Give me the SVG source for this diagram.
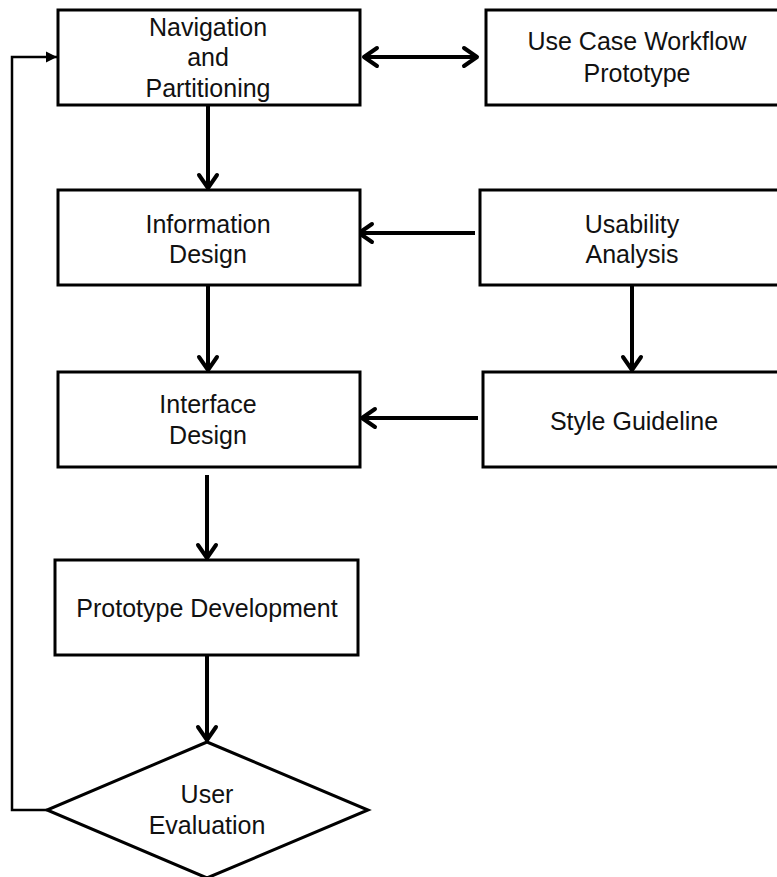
<svg xmlns="http://www.w3.org/2000/svg" width="777" height="877" viewBox="0 0 777 877">
  <style>
    .box { fill: #ffffff; stroke: #000000; stroke-width: 3; }
    .lbl { font-family: "Liberation Sans", Arial, sans-serif; font-size: 25px; fill: #111111; text-anchor: middle; }
    .flow { fill: none; stroke: #000000; stroke-width: 4; }
    .loop { fill: none; stroke: #000000; stroke-width: 2.5; }
  </style>
  <defs>
    <marker id="chev" markerUnits="userSpaceOnUse" viewBox="-20 -15 25 30" refX="0" refY="0" markerWidth="25" markerHeight="30" orient="auto-start-reverse" overflow="visible">
      <path d="M-13,-9 L0,0 L-13,9" fill="none" stroke="#000000" stroke-width="4" stroke-linecap="round" stroke-linejoin="round"/>
    </marker>
    <marker id="tri" markerUnits="userSpaceOnUse" viewBox="-12 -6 13 12" refX="0" refY="0" markerWidth="13" markerHeight="12" orient="auto" overflow="visible">
      <path d="M-11,-5.5 L0,0 L-11,5.5 Z" fill="#000000"/>
    </marker>
  </defs>

  <!-- connectors -->
  <g id="connectors">
    <line class="flow" x1="208" y1="105" x2="208" y2="188" marker-end="url(#chev)"/>
    <line class="flow" x1="208" y1="285" x2="208" y2="370" marker-end="url(#chev)"/>
    <line class="flow" x1="207" y1="475" x2="207" y2="558" marker-end="url(#chev)"/>
    <line class="flow" x1="207" y1="655" x2="207" y2="740" marker-end="url(#chev)"/>
    <line class="flow" x1="364" y1="57" x2="477" y2="57" marker-start="url(#chev)" marker-end="url(#chev)"/>
    <line class="flow" x1="475" y1="233" x2="359" y2="233" marker-end="url(#chev)"/>
    <line class="flow" x1="632" y1="285" x2="632" y2="370" marker-end="url(#chev)"/>
    <line class="flow" x1="478" y1="418" x2="362" y2="418" marker-end="url(#chev)"/>
    <polyline class="loop" points="47,810 12,810 12,57 57,57" marker-end="url(#tri)"/>
  </g>

  <!-- nodes -->
  <g id="navigation">
    <rect class="box" x="58" y="10" width="302" height="95"/>
    <text class="lbl" x="208" y="36">Navigation</text>
    <text class="lbl" x="208" y="66">and</text>
    <text class="lbl" x="208" y="97">Partitioning</text>
  </g>
  <g id="use-case">
    <rect class="box" x="486" y="10" width="304" height="95"/>
    <text class="lbl" x="637" y="50">Use Case Workflow</text>
    <text class="lbl" x="637" y="82">Prototype</text>
  </g>
  <g id="information-design">
    <rect class="box" x="58" y="190" width="302" height="95"/>
    <text class="lbl" x="208" y="233">Information</text>
    <text class="lbl" x="208" y="263">Design</text>
  </g>
  <g id="usability-analysis">
    <rect class="box" x="480" y="190" width="310" height="95"/>
    <text class="lbl" x="632" y="233">Usability</text>
    <text class="lbl" x="632" y="263">Analysis</text>
  </g>
  <g id="interface-design">
    <rect class="box" x="58" y="372" width="302" height="95"/>
    <text class="lbl" x="208" y="413">Interface</text>
    <text class="lbl" x="208" y="444">Design</text>
  </g>
  <g id="style-guideline">
    <rect class="box" x="483" y="372" width="307" height="95"/>
    <text class="lbl" x="634" y="430">Style Guideline</text>
  </g>
  <g id="prototype-development">
    <rect class="box" x="55" y="560" width="303" height="95"/>
    <text class="lbl" x="207" y="617">Prototype Development</text>
  </g>
  <g id="user-evaluation">
    <polygon class="box" points="207,742 368,810 207,878 47,810"/>
    <text class="lbl" x="207" y="803">User</text>
    <text class="lbl" x="207" y="834">Evaluation</text>
  </g>
</svg>
